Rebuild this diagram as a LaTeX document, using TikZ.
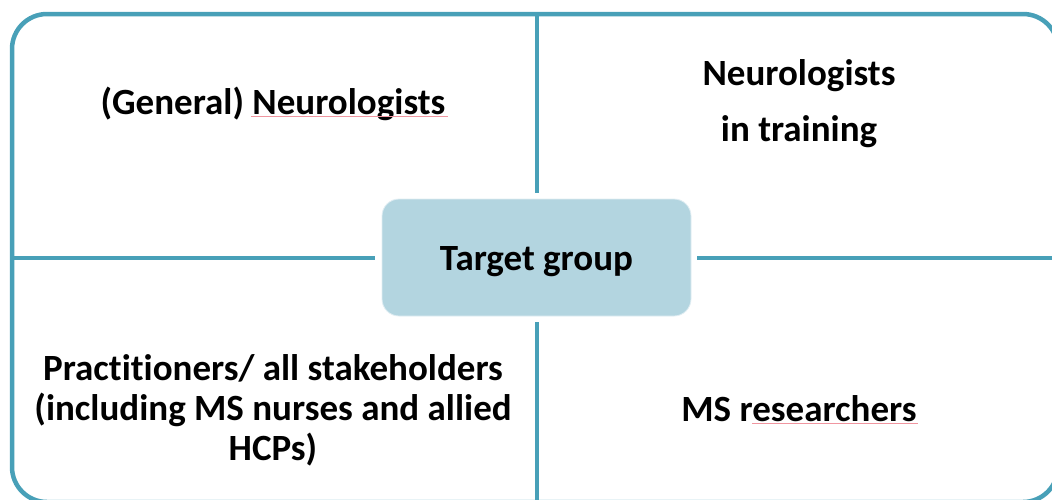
\documentclass[tikz,border=0pt]{standalone}
\usepackage{fontspec}
\setmainfont[Ligatures=NoCommon]{Carlito}
\definecolor{teal}{RGB}{72,160,184}
\definecolor{boxfill}{RGB}{179,213,224}
\definecolor{squig}{RGB}{240,150,160}
\begin{document}
\begin{tikzpicture}[x=1pt,y=-1pt,
  frame/.style={draw=teal,line width=4.5pt},
  label/.style={font=\fontsize{37}{40}\selectfont\bfseries,align=center,text=black,inner sep=0pt},
  centerbox/.style={fill=boxfill,draw=white!60!boxfill,line width=0.8pt,rounded corners=17pt,minimum width=309pt,minimum height=117pt,inner sep=0pt},
  spell/.style={draw=squig,line width=0.8pt}]
\useasboundingbox (0,0) rectangle (1052,499);
\fill[white] (0,0) rectangle (1052,499);
\begin{scope}
\clip (0,0) rectangle (1052,499);
\draw[frame,rounded corners=35pt] (12,14) rectangle (1058,502);
\node[centerbox] (c) at (536.5,257.5) {};
\node[label,anchor=base] at (536.5,270) {Target group};
\coordinate (t) at (537,14);
\coordinate (b) at (537,502);
\coordinate (l) at (12,258);
\coordinate (r) at (1058,258);
\draw[frame] (t) -- (537,193);
\draw[frame] (537,322) -- (b);
\draw[frame] (l) -- (375,258);
\draw[frame] (697,258) -- (r);
\end{scope}
\node[label,anchor=base] (nl) at (273,114) {(General) Neurologists};
\node[label] (nt) at (799,104) {Neurologists\\[16pt]in training};
\node[label] (pr) at (273,410) {Practitioners/ all stakeholders\\(including MS nurses and allied\\HCPs)};
\node[label,anchor=base] (ms) at (799,421) {MS researchers};
\draw[spell] (251,116) -- (448,116);
\draw[spell] (752,423) -- (918,423);
\end{tikzpicture}
\end{document}
